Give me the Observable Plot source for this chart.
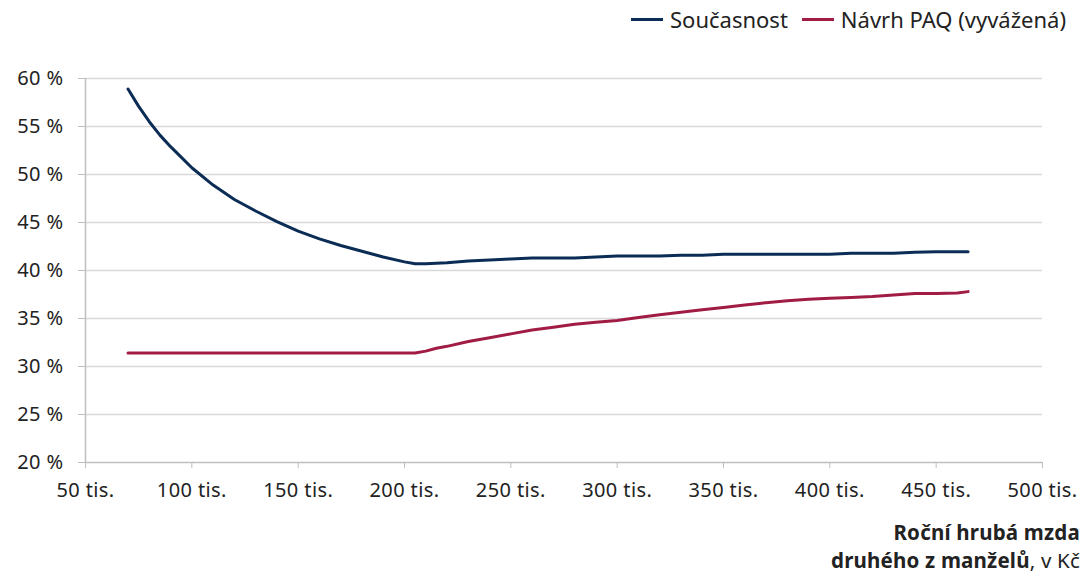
<!DOCTYPE html>
<html>
<head>
<meta charset="utf-8">
<script src="https://cdn.jsdelivr.net/npm/d3@7"></script>
<script src="https://cdn.jsdelivr.net/npm/@observablehq/plot@0.6"></script>
<style>
  html, body { margin: 0; padding: 0; background: #fff; }
  body { width: 1083px; height: 575px; position: relative; overflow: hidden; font-family: "Noto Sans", "Open Sans", sans-serif; color: #222; }
  #legend { position: absolute; top: 4px; right: 17px; display: flex; align-items: center; font-size: 22px; z-index: 2; }
  .item { display: flex; align-items: center; margin-left: 14px; }
  .sw { width: 32px; height: 3px; margin-right: 7px; }
  #xtitle { position: absolute; right: 3px; top: 518px; text-align: right; font-size: 20.5px; line-height: 28px; letter-spacing: 0.2px; z-index: 2; }
  #chart { position: absolute; left: 0; top: 0; }
</style>
</head>
<body>
<div id="legend"></div>
<div id="chart"></div>
<div id="xtitle"><b>Roční hrubá mzda</b><br><b>druhého z manželů</b>, v Kč</div>
<script>
const seriesNames = ["Současnost", "Návrh PAQ (vyvážená)"];
const seriesColors = ["#0b2d55", "#a11c44"];

// Roční hrubá mzda druhého z manželů (tis. Kč)
const mzdaSoucasnost = [70, 75, 80, 85, 90, 100, 110, 120, 130, 140, 150, 160, 170, 180, 190, 200, 205, 210, 220, 230, 240, 250, 260, 270, 280, 290, 300, 310, 320, 330, 340, 350, 360, 370, 380, 390, 400, 410, 420, 430, 440, 450, 460, 465];
const soucasnost = [58.9, 57.1, 55.5, 54.1, 52.9, 50.7, 48.9, 47.4, 46.2, 45.1, 44.1, 43.3, 42.6, 42.0, 41.4, 40.9, 40.7, 40.7, 40.8, 41.0, 41.1, 41.2, 41.3, 41.3, 41.3, 41.4, 41.5, 41.5, 41.5, 41.6, 41.6, 41.7, 41.7, 41.7, 41.7, 41.7, 41.7, 41.8, 41.8, 41.8, 41.9, 41.95, 41.95, 41.95];

const mzdaNavrh = [70, 100, 150, 200, 205, 210, 215, 220, 230, 240, 250, 260, 270, 280, 290, 300, 310, 320, 330, 340, 350, 360, 370, 380, 390, 400, 410, 420, 430, 440, 450, 460, 465];
const navrh = [31.4, 31.4, 31.4, 31.4, 31.4, 31.6, 31.9, 32.1, 32.6, 33.0, 33.4, 33.8, 34.1, 34.4, 34.6, 34.8, 35.1, 35.4, 35.65, 35.9, 36.15, 36.4, 36.65, 36.85, 37.0, 37.1, 37.2, 37.3, 37.45, 37.6, 37.6, 37.65, 37.8];

const xTicks = [50, 100, 150, 200, 250, 300, 350, 400, 450, 500];
const yTicks = [20, 25, 30, 35, 40, 45, 50, 55, 60];

const data = [
  ...mzdaSoucasnost.map((x, i) => ({x, y: soucasnost[i], s: seriesNames[0]})),
  ...mzdaNavrh.map((x, i) => ({x, y: navrh[i], s: seriesNames[1]}))
];

const legend = document.getElementById("legend");
seriesNames.forEach((n, i) => {
  const it = document.createElement("div");
  it.className = "item";
  it.innerHTML = `<span class="sw" style="background:${seriesColors[i]}"></span><span>${n}</span>`;
  legend.appendChild(it);
});

const chart = Plot.plot({
  width: 1083,
  height: 575,
  marginTop: 78,
  marginBottom: 113,
  marginLeft: 85,
  marginRight: 41,
  style: {fontFamily: '"Noto Sans", "Open Sans", sans-serif', fontSize: "20px", letterSpacing: "0.4px", color: "#222", background: "transparent"},
  x: {domain: [50, 500]},
  y: {domain: [20, 60]},
  color: {domain: seriesNames, range: seriesColors},
  marks: [
    Plot.gridY(yTicks.filter(d => d > 20), {stroke: "#d9d9d9", strokeOpacity: 1, strokeWidth: 1.5}),
    Plot.ruleY([20], {stroke: "#bfbfbf", strokeWidth: 1.5}),
    Plot.ruleX([50], {stroke: "#bfbfbf", strokeWidth: 1.5}),
    Plot.axisY(yTicks, {tickSize: 7, tickPadding: 15, tickFormat: d => d + " %", label: null, stroke: "#bfbfbf", fill: "#222"}),
    Plot.axisX(xTicks, {tickSize: 6, tickPadding: 14, tickFormat: d => d + " tis.", label: null, stroke: "#bfbfbf", fill: "#222"}),
    Plot.line(data, {x: "x", y: "y", z: "s", stroke: "s", strokeWidth: 3, curve: "linear"})
  ]
});
document.getElementById("chart").appendChild(chart);
</script>
</body>
</html>
